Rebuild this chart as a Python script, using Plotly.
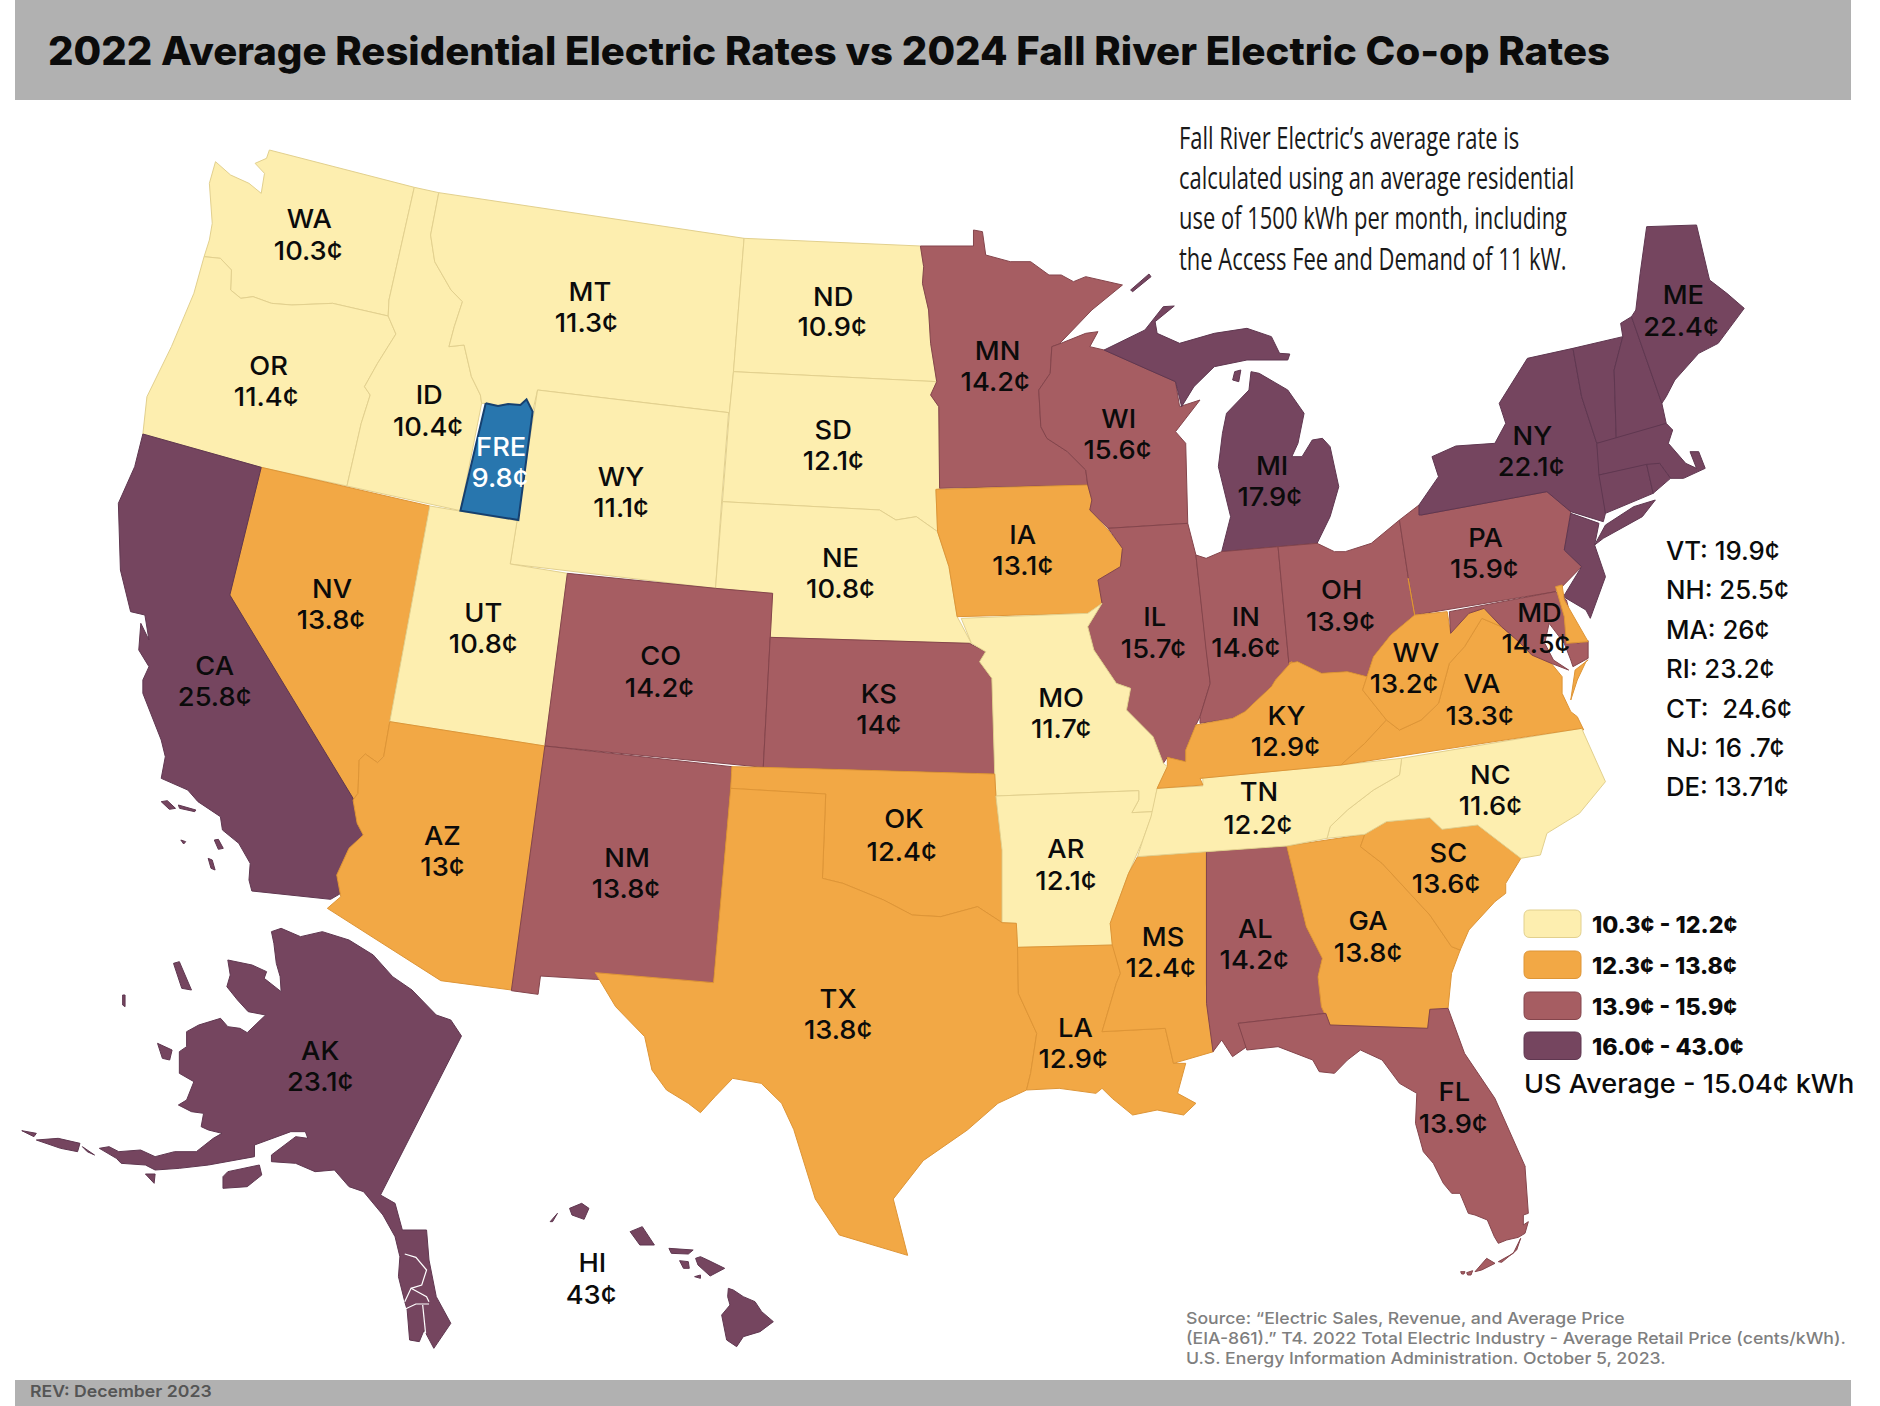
import json
import plotly.graph_objects as go

# ---------- data ----------
STATES = ["WA","OR","ID","MT","ND","SD","WY","NE","MN","WI","IA","MI","IL","IN","OH","PA","NY","ME","NV","UT","CO","KS","MO","CA","AZ","NM","OK","AR","TN","NC","KY","WV","VA","MD","SC","GA","AL","MS","LA","TX","FL","AK","HI","FRE"]
RATES = ["10.3","11.4","10.4","11.3","10.9","12.1","11.1","10.8","14.2","15.6","13.1","17.9","15.7","14.6","13.9","15.9","22.1","22.4","13.8","10.8","14.2","14","11.7","25.8","13","13.8","12.4","12.1","12.2","11.6","12.9","13.2","13.3","14.5","13.6","13.8","14.2","12.4","12.9","13.8","13.9","23.1","43","9.8"]
TIERS = [0,0,0,0,0,0,0,0,2,2,1,3,2,2,2,2,3,3,1,0,2,2,0,3,1,2,1,0,0,0,1,1,1,2,1,1,2,1,1,1,2,3,3,4]
EXTRA_AREAS = {"VT":3,"NH":3,"MA":3,"RI":3,"CT":3,"NJ":3,"DE":1}
SIDE_RATES = ["VT: 19.9¢","NH: 25.5¢","MA: 26¢","RI: 23.2¢","CT:  24.6¢","NJ: 16 .7¢","DE: 13.71¢"]
TIER_LABELS = ["10.3¢ - 12.2¢","12.3¢ - 13.8¢","13.9¢ - 15.9¢","16.0¢ - 43.0¢"]
FILL = ["#FDEEAF","#F2A845","#A65D62","#75455F","#2876AE"]
EDGE = ["#E2D08E","#DE9536","#84454C","#5F3750","#16406F"]
TITLE = "2022 Average Residential Electric Rates vs 2024 Fall River Electric Co-op Rates"
NOTE = ["Fall River Electric’s average rate is","calculated using an average residential","use of 1500 kWh per month, including","the Access Fee and Demand of 11 kW."]
AVERAGE = "US Average - 15.04¢ kWh"
SOURCE = ["Source: “Electric Sales, Revenue, and Average Price","(EIA-861).” T4. 2022 Total Electric Industry - Average Retail Price (cents/kWh).","U.S. Energy Information Administration. October 5, 2023."]
REV = "REV: December 2023"

# ---------- outline helpers (reading frames of the picture) ----------
FR = {"A":(100,130,2.45),"B":(700,200,2.45),"C":(1200,230,2.306),"D":(100,560,2.45),
      "E":(700,650,2.45),"F":(1200,720,2.306),"G":(0,900,2.063),"S":(0,0,1/1.199),"H":(1400,1150,3),"I":(680,1200,3)}
def P(fr,*v):
    ox,oy,k=FR[fr]; ky = 3 if fr!="S" else 1/1.199
    return [(ox+v[i]/k, oy+v[i+1]/ky) for i in range(0,len(v),2)]

OUT = {}
OUT["WA"]=[P("A",415,60,770,172,708,510,706,558,570,520,470,525,420,520,375,500,345,505,320,480,322,420,295,385,255,380,268,330,275,280,268,160,283,95,320,135,365,160,395,190,403,130,380,100,408,85)]
OUT["OR"]=[P("A",255,380,295,385,322,420,320,480,345,505,375,500,420,520,470,525,570,520,706,558,725,612,680,700,648,770,662,795,640,880,605,1068,395,1012,105,912,115,800,175,650,230,490)]
OUT["ID"]=[P("A",770,172,830,188,810,315,820,395,860,480,888,515,868,590,855,650,892,645,910,740,932,795,935,820,883,1142,605,1068,640,880,662,795,648,770,680,700,725,612,706,558,708,510)]
OUT["MT"]=[P("A",830,188)+P("B",108,115,82,515,72,638)+P("A",1072,780,1060,845,945,820,935,820,932,795,910,740,892,645,855,650,868,590,888,515,860,480,820,395,810,315)]
OUT["WY"]=[P("A",1072,780,1540,848,1523,1113,1508,1375,1005,1302)]
OUT["UT"]=[P("A",808,1128,1022,1172,1005,1302,1145,1330)+P("D",1090,558,710,485)]
OUT["NV"]=[P("A",395,1012,808,1128)+P("D",710,485,695,590,680,608,650,582,635,600,632,700,620,720,318,105)]
OUT["CA"]=[P("A",105,912,395,1012)+P("D",318,105,620,715,630,790,645,825,610,865,600,915,580,945,590,1000,565,1018,372,993,365,960,368,910,340,850,300,810,295,770,240,725,215,690,150,655,160,590,150,540,105,400,105,360,120,320,95,270,100,190,120,240,110,165,75,155,50,30)+P("A",48,1240,45,1120,85,1010),
           P("D",150,725,165,722,185,745,170,748),P("D",192,735,235,750,232,755,195,745),P("D",198,840,210,845,205,852),P("D",280,840,290,838,302,865,290,868),P("D",265,895,275,900,282,930,272,925)]
OUT["AZ"]=[P("D",710,485,1090,558,1008,1290,835,1262,557,1045,590,1010,580,945,610,865,645,825,630,790,620,720,632,700,635,600,650,582,680,608,695,590)]
OUT["CO"]=[P("D",1145,40)+P("B",38,1165,178,1180)+P("E",155,352)+P("D",1090,558)]
OUT["KS"]=[P("B",172,1312,660,1330,700,1355)+P("E",685,35,715,85,722,372,155,352)]
OUT["NE"]=[P("B",55,905,440,930,480,960,530,950,582,995,610,1100,630,1250,665,1330,172,1312,178,1180,38,1165)]
OUT["ND"]=[P("B",108,115,540,138,548,200,545,250,560,330,565,430,580,545,82,515)]
OUT["SD"]=[P("B",82,515,580,545,565,585,585,620,587,865,578,870,582,995,530,950,480,960,440,930,55,905,72,638)]
OUT["MN"]=[P("B",540,138,670,138,670,90,692,95,700,165,760,185,810,185,855,225,885,225,915,245,945,230,1035,255,960,330,880,432,862,440,858,520,830,570,835,680,850,715,900,755,945,810,950,855,587,865,585,620,565,585,580,545,565,430,560,330,545,250,548,200)]
OUT["IA"]=[P("B",578,868,950,855,960,900,955,930,1000,990,1035,1045,1030,1100,975,1140,985,1210,950,1240,630,1250,610,1100,582,995)]
OUT["WI"]=[P("B",880,432,945,400,975,395,955,440,990,450,1100,510,1165,545,1175,620,1225,600,1165,695,1190,730,1195,970,1000,985,955,930,960,900,950,855,945,810,900,755,850,715,835,680,830,570,858,520,862,440)]
OUT["MI"]=[P("B",990,450,1090,390,1135,320,1162,318,1115,365,1120,400,1175,430,1260,400,1340,385,1400,410,1420,460,1445,462,1440,480,1340,480,1260,500,1210,560,1180,620,1165,545,1100,510),
           P("B",1350,515,1370,520,1440,570,1480,640,1465,730,1450,770,1475,770,1500,720,1525,715)+P("C",300,650,320,770,300,860,270,940,50,965)+P("B",1300,950,1270,800,1280,700,1290,640,1345,570),
           P("B",1055,270,1100,222,1105,230,1060,275),P("B",1310,515,1325,510,1320,545,1305,540)]
OUT["IL"]=[P("B",1000,985,1195,970,1215,1065,1240,1350)+P("E",1250,100,1225,200,1215,225,1190,300,1190,335,1145,322,1135,340,1110,260,1045,180,1055,115,1020,100,965,0)+P("B",950,1280,985,1210,975,1140,1030,1100,1035,1045)]
OUT["IN"]=[P("B",1215,1065,1240,1075)+P("C",50,965,180,950,205,1300)+P("E",1450,35,1445,60,1410,90,1400,110,1335,185,1305,205,1225,220,1225,200,1250,100,1240,0)]
OUT["OH"]=[P("C",180,950,270,940,310,965,335,965,395,940,460,870,480,1040,495,1155,440,1215,400,1280,385,1340,340,1325,280,1330,225,1295,205,1300)]
OUT["PA"]=[P("C",460,870,505,825,510,855,800,785,855,845,840,960,880,1010,835,1070,820,1085,495,1155,480,1040)]
OUT["NY"]=[P("C",505,855,505,825,550,740,535,680,590,648,680,640,705,580,690,520,755,385,860,355,880,500,915,640,935,850,930,875,855,845,800,785,510,855),
           P("C",910,945,930,925,1020,860,1050,810,1000,830,935,885)]
OUT["NJ"]=[P("C",855,850,920,880,910,945,935,1040,900,1165,890,1140,838,1100,880,1010,840,960)]
OUT["VT"]=[P("C",860,355,975,320,955,420,960,630,915,640,880,500)]
OUT["NH"]=[P("C",975,320,970,280,995,260,1065,520,1075,580,960,630,955,420)]
OUT["ME"]=[P("C",995,260,1005,240,1015,130,1030,-10,1145,-15,1175,150,1215,190,1255,235,1195,340,1150,370,1095,450,1075,500,1065,520)]
OUT["MA"]=[P("C",915,640,1075,580,1090,600,1080,640,1120,700,1145,715,1130,665,1150,665,1165,715,1115,745,1085,745,1060,700,920,735)]
OUT["CT"]=[P("C",920,735,1030,703,1045,790,935,850)]
OUT["RI"]=[P("C",1030,703,1060,700,1085,745,1045,790)]
OUT["KY"]=[P("E",1215,225,1305,205,1335,185,1400,110,1410,90,1450,35)+P("C",205,1300,225,1295,280,1330,340,1325,385,1340,375,1380,430,1470)+P("F",380,70,325,135,0,175)+P("E",1232,405,1120,415,1145,350,1145,322,1190,335,1190,300)]
OUT["WV"]=[P("C",480,1045,495,1155,570,1145,578,1210,620,1150,655,1135,695,1190,650,1165,610,1250,575,1300,550,1420,510,1470,460,1500,430,1470,375,1380,385,1340,400,1280,440,1215,495,1155)]
OUT["VA"]=[P("C",695,1190,735,1235,765,1275,810,1300,835,1340,835,1390,855,1445,870,1460,885,1500)+P("F",880,25,325,135,380,70,430,0)+P("C",460,1500,510,1470,550,1420,575,1300,610,1250,650,1165),
           P("C",895,1290,865,1320,855,1410,870,1350,890,1295)]
OUT["MD"]=[P("C",575,1145,820,1085,845,1110,870,1240,895,1232,895,1285,860,1310,855,1290,840,1240,805,1180,795,1240,815,1290,850,1320,810,1300,765,1275,735,1235,695,1190,655,1135,620,1150,578,1210)]
OUT["DE"]=[P("C",820,1070,835,1065,840,1110,895,1235,845,1240,840,1160)]
OUT["TN"]=[P("E",1120,415,1232,408,1232,385)+P("F",0,175,325,135,465,115,460,165,400,210,340,270,300,320,293,355,200,378,15,395)+P("E",1072,620,1085,570,1105,500)]
OUT["NC"]=[P("F",880,25,465,115,460,165,400,210,340,270,300,320,293,355,380,343,430,305,530,293,558,328,640,315,740,415,785,405,800,340,875,280,935,185,895,65)]
OUT["SC"]=[P("F",380,343,430,305,530,293,558,328,640,315,740,415,705,490,705,520,680,545,620,630,600,690,580,680,530,585,420,430,370,380)]
OUT["GA"]=[P("F",200,378,380,343,370,380,420,430,530,585,580,680,600,690,580,760,572,865,530,868,525,925,300,915,280,860,272,770,282,715,245,620)]
OUT["AL"]=[P("F",15,395,200,378,245,620,282,715,272,770,290,880,88,910,108,980,75,1010,50,960,30,995,15,850)]
OUT["MS"]=[P("E",1072,620,1240,605,1240,1000,1258,1205,1160,1240,1140,1135,985,1145,1020,1000,1030,970,1010,885,1005,820,1050,670)]
OUT["LA"]=[P("E",778,892,1012,885,1030,970,1020,1000,985,1145,1140,1135,1160,1240,1190,1240,1170,1330,1215,1360,1185,1395,1120,1380,1060,1395,1010,1345,985,1315,970,1330,880,1315,800,1320,810,1270,825,1150,780,1030)]
OUT["AR"]=[P("E",725,438,1075,422,1075,450,1058,488,1110,485,1085,570,1050,670,1005,820,1012,885,778,892,775,820,740,818,740,600)]
OUT["MO"]=[P("B",640,1255,950,1240,985,1210,950,1280)+P("E",965,0,1020,100,1055,115,1045,180,1110,260,1135,340,1145,350,1120,415,1110,485,1058,488,1075,450,1075,422,725,438,722,372,715,85,685,35)+P("B",700,1355,665,1330)]
OUT["OK"]=[P("E",78,350,155,352,722,372,725,438,740,600,740,818,680,770,590,800,520,795,450,750,350,700,300,685,308,432,75,415)]
OUT["TX"]=[P("E",75,415,308,432,300,685,350,700,450,750,520,795,590,800,680,770,740,818,775,820,778,892,780,1030,825,1150,810,1270,800,1320,730,1360,655,1440)+P("S",770,968,745,1000,757,1047,700,1030,680,1000,662,942)+P("E",200,1360,150,1300,80,1285)+P("G",1475,590,1445,638,1420,610,1375,570,1345,510,1330,410,1270,320,1240,250,1228,218,1472,248)]
OUT["NM"]=[P("D",1090,558)+P("E",78,350,75,415)+P("G",1472,248,1228,238,1115,228,1110,283,1055,272)]
OUT["FL"]=[P("F",88,910,290,880,300,915,525,925,530,868,572,865,610,1000,680,1135,750,1340)+P("H",375,50,385,190,370,195,370,225,385,215,375,250,355,262,320,270,295,280,283,260,262,210,225,195,205,190,180,130,155,130,130,100,100,40,70,5)+P("F",497,1210,500,1120,460,1090,420,1020,370,990,340,1020,310,1060,275,1055,260,1020,180,980,108,990),
           P("H",295,335,340,310,362,265,350,300,305,337),P("H",225,365,260,325,285,340,245,360),P("H",200,368,218,362,213,375,203,375),P("H",182,365,195,365,192,372,185,372)]
OUT["AK"]=[P("G",560,95,580,85,620,110,665,95,720,120,770,165,810,230,850,270,900,345,930,360,952,408,785,885,815,910,830,990,880,990,885,1080,900,1190,930,1270,895,1345,875,1290,865,1325,845,1320,840,1230,835,1205,822,1130,825,1070,815,1010,790,945,750,875,720,860,690,810,650,815,610,790,560,785,560,765,610,710,635,715,630,695,600,695,525,735,525,770,430,795,370,805,320,810,300,795,250,790,240,775,205,745,225,740,245,755,290,750,320,770,360,755,405,755,440,715,458,700,430,690,415,680,420,640,395,635,368,615,385,600,400,545,370,520,370,455,385,440,385,395,410,375,455,355,470,380,495,385,510,398,530,370,548,345,512,335,490,300,468,260,475,225,470,180,520,195,550,215,545,235,580,275,578,230,570,190,565,130),
           P("G",460,830,460,865,510,860,540,825,535,795,470,815),P("G",325,430,355,450,350,480,335,475),P("G",358,190,370,185,395,270,375,265),P("G",253,285,258,285,258,320,253,315),
           P("G",45,692,75,700,70,710),P("G",75,720,120,715,165,730,160,755,125,745),P("G",170,740,195,765,180,755),P("G",300,822,320,822,318,850)]
OUT["HI"]=[P("G",1135,965,1150,940,1140,965),P("G",1175,925,1200,910,1215,925,1205,958,1180,945),P("G",1300,995,1325,980,1350,1035,1320,1035),P("G",1380,1045,1430,1050,1420,1062,1385,1060),P("G",1402,1082,1420,1085,1422,1105,1410,1105),P("G",1435,1075,1445,1070,1460,1080,1495,1105,1465,1128,1440,1095),P("G",1433,1130,1445,1125,1445,1135),
           P("I",145,265,160,270,190,290,225,305,245,335,280,365,240,395,190,410,170,440,140,420,125,345,150,315,143,290)]
OUT["FRE"]=[P("A",945,820,975,828,1000,822,1030,825,1045,808,1060,845,1025,1170,883,1142)]
AK_CHANNELS=[P("G",835,1062,858,1072,880,1110,870,1155,848,1165,835,1205),P("G",848,1165,880,1190,885,1205),P("G",835,1228,858,1212,885,1212),P("G",872,1215,878,1300)]

LABEL_X = [258,224,358,492,695,695,518,701,832,933,853,1061,963,1039,1119,1239,1278,1404,277,403,551,733,885,179,369,523,754,889,1050,1243,1073,1181,1236,1284,1208,1141,1047,970,897,699,1213,267,494,418]
CODE_Y = [182,305,329,243,247,358,397,465,292,349,446,388,514,514,492,448,363,246,491,511,547,578,582,555,697,715,683,708,660,646,597,544,570,511,711,768,774,781,857,833,910,876,1053,372]
RATE_X = [257,222,357,489,694,695,518,701,830,932,853,1059,962,1039,1118,1238,1277,1402,276,403,550,733,885,179,369,522,752,889,1049,1243,1072,1171,1234,1281,1206,1141,1046,968,895,699,1212,267,493,417]
RATE_Y = [209,331,356,269,272,384,423,491,318,375,472,414,541,540,518,474,389,272,517,537,573,604,608,581,723,741,710,734,688,672,623,570,597,537,737,794,800,807,883,859,937,902,1080,398]
SC = 1.199
LABEL_DY = 3
LABEL_FONT = "Inter, Montserrat, sans-serif"

fig = go.Figure()
ORDER = ["WA","OR","ID","MT","ND","SD","WY","NE","MN","IA","WI","MI","IL","IN","OH","PA","NY","VT","NH","ME","MA","CT","RI","NJ","NV","UT","CO","KS","MO","CA","AZ","NM","OK","AR","TX","LA","MS","AL","GA","SC","NC","TN","KY","VA","WV","MD","DE","FL","AK","HI","FRE"]
def tier_of(s):
    return EXTRA_AREAS[s] if s in EXTRA_AREAS else TIERS[STATES.index(s)]
for s in ORDER:
    xs,ys=[],[]
    for part in OUT[s]:
        xs += [p[0] for p in part]+[part[0][0],None]
        ys += [p[1] for p in part]+[part[0][1],None]
    t=tier_of(s)
    fig.add_trace(go.Scatter(x=xs,y=ys,mode="lines",fill="toself",fillcolor=FILL[t],
        line=dict(color=EDGE[t],width=2 if s=="FRE" else 1),name=s,hoverinfo="name",showlegend=False))
cx,cy=[],[]
for part in AK_CHANNELS:
    cx += [p[0] for p in part]+[None]
    cy += [p[1] for p in part]+[None]
fig.add_trace(go.Scatter(x=cx,y=cy,mode="lines",line=dict(color="#FFFFFF",width=1.2),hoverinfo="skip",showlegend=False))

for i,s in enumerate(STATES):
    col = "#FFFFFF" if s=="FRE" else "#0B0B0B"
    fig.add_trace(go.Scatter(x=[LABEL_X[i]*SC,RATE_X[i]*SC],y=[CODE_Y[i]*SC+LABEL_DY,RATE_Y[i]*SC+LABEL_DY],mode="text",
        text=[s,RATES[i]+"¢"],textposition="middle center",
        textfont=dict(family=LABEL_FONT,size=26,color=col,weight=500),hoverinfo="skip",showlegend=False))

shapes=[
    dict(type="rect",x0=15,x1=1851,y0=0,y1=100,fillcolor="#B1B1B1",line_width=0,layer="below"),
    dict(type="rect",x0=15,x1=1851,y0=1380,y1=1406,fillcolor="#B1B1B1",line_width=0,layer="below"),
]
ann=[]; STRETCH={}
def T(x,y,t,size,color="#0B0B0B",fam=LABEL_FONT,anchor="left",weight=None,k=None):
    f=dict(family=fam,size=size,color=color)
    if weight: f["weight"]=weight
    ann.append(dict(x=x,y=y,xref="x",yref="y",text=t,showarrow=False,xanchor=anchor,yanchor="middle",font=f,align="left"))
    if k: STRETCH[t]=k
T(46,50,TITLE,39,weight=800,k=1.027)
NARROW="Open Sans, sans-serif"
for i,l in enumerate(NOTE):
    T(1177,137+i*40.2,l,31,"#1A1A1A",NARROW,k=0.708)
for i,l in enumerate(SIDE_RATES):
    T(1664,551+i*39.4,l,25,weight=500,k=1.03)
SW_Y=[910,951,992,1032]
for i,l in enumerate(TIER_LABELS):
    y0,y1=SW_Y[i],SW_Y[i]+27.5; x0,x1=1524,1581; r=6
    path=f"M {x0+r} {y0} L {x1-r} {y0} Q {x1} {y0} {x1} {y0+r} L {x1} {y1-r} Q {x1} {y1} {x1-r} {y1} L {x0+r} {y1} Q {x0} {y1} {x0} {y1-r} L {x0} {y0+r} Q {x0} {y0} {x0+r} {y0} Z"
    shapes.append(dict(type="path",path=path,fillcolor=FILL[i],line=dict(color=EDGE[i],width=1)))
    T(1590,y0+15,l,23,weight=800,k=1.01)
T(1522,1083,AVERAGE,26,weight=500,k=1.043)
for i,l in enumerate(SOURCE):
    T(1184,1318+i*20.2,l,16.5,"#7F7F7F",weight=500,k=1.07)
T(28,1391,REV,16.5,"#555555",weight=600,k=1.07)

fig.update_layout(width=1880,height=1406,margin=dict(l=0,r=0,t=0,b=0),paper_bgcolor="white",plot_bgcolor="white",
    xaxis=dict(range=[0,1880],visible=False,fixedrange=True),
    yaxis=dict(range=[1406,0],visible=False,fixedrange=True),
    shapes=shapes,annotations=ann,showlegend=False)
POST = """
document.body.style.margin='0';document.documentElement.style.overflow='hidden';
var S=%s;
function fit(t,k){t.setAttribute('textLength',t.getComputedTextLength()*k);t.setAttribute('lengthAdjust','spacingAndGlyphs');}
document.querySelectorAll('.annotation-text').forEach(function(t){var k=S[t.textContent];if(k)fit(t,k);});
document.querySelectorAll('.textpoint text').forEach(function(t){fit(t,1.05);});
""" % json.dumps(STRETCH)
fig.write_html("out.html",config={"displayModeBar":False},post_script=POST)
